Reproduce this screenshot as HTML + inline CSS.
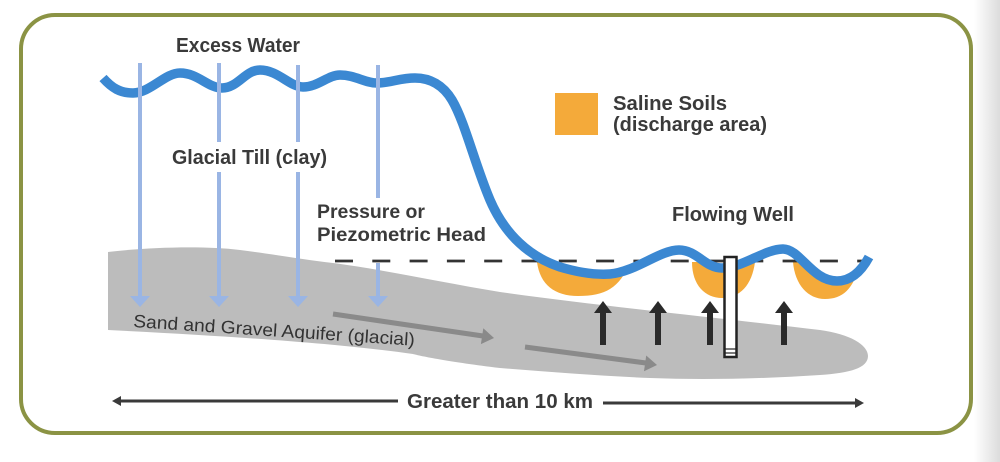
<!DOCTYPE html>
<html>
<head>
<meta charset="utf-8">
<style>
html,body{margin:0;padding:0;background:#fff;}
svg{display:block;}
text{font-family:"Liberation Sans",Arial,sans-serif;}
</style>
</head>
<body>
<svg width="1000" height="462" viewBox="0 0 1000 462" xmlns="http://www.w3.org/2000/svg">
<defs>
<linearGradient id="edge" x1="0" y1="0" x2="1" y2="0">
<stop offset="0" stop-color="#ffffff"/>
<stop offset="1" stop-color="#dcdcdc"/>
</linearGradient>
<clipPath id="below">
<path d="M103,78 C112,88 120,93 133,93 C150,93 165,73 180,73 C198,73 208,88 222,88 C238,88 245,70 260,70 C278,70 290,87 303,87 C318,87 328,75 340,75 C355,75 365,83 377,83 C390,83 400,78 415,78 C430,78 443,85 452,100 C465,122 475,165 490,200 C505,235 530,257 560,267 C580,273 595,275 610,274 C635,272 660,250 679,250 C697,250 705,268 722,268 C742,268 765,249 783,249 C800,249 812,281 837,281 C852,281 862,270 869,257 L880,257 L880,420 L100,420 Z"/>
</clipPath>
</defs>
<rect x="0" y="0" width="1000" height="462" fill="#ffffff"/>
<rect x="974" y="0" width="26" height="462" fill="url(#edge)"/>
<!-- border -->
<rect x="21" y="15" width="950" height="418" rx="34" ry="34" fill="#ffffff" stroke="#8b9344" stroke-width="4"/>

<!-- aquifer -->
<path d="M108,252 C140,248 200,245 240,250 C280,255 305,260 333,263 C380,269 440,282 500,292 C600,306 720,318 820,330 C850,334 868,345 868,356 C868,368 850,373 820,375 C760,379 700,380 650,378 C600,376 550,372 500,368 C450,362 420,356 413,354 C350,345 250,337 108,330 Z" fill="#bcbcbc"/>

<!-- orange saline areas -->
<g clip-path="url(#below)" fill="#f4aa3a">
<path d="M537,262 C540,285 555,296 578,296 C605,296 620,288 630,262 Z"/>
<path d="M692,262 C692,285 705,298 722,298 C740,298 752,285 755,262 Z"/>
<path d="M793,262 C795,285 808,299 825,299 C842,299 854,290 860,262 Z"/>
</g>

<!-- dashed piezometric line -->
<line x1="335" y1="261" x2="866" y2="261" stroke="#333" stroke-width="2.7" stroke-dasharray="18 19.3"/>

<!-- blue ground surface -->
<path d="M103,78 C112,88 120,93 133,93 C150,93 165,73 180,73 C198,73 208,88 222,88 C238,88 245,70 260,70 C278,70 290,87 303,87 C318,87 328,75 340,75 C355,75 365,83 377,83 C390,83 400,78 415,78 C430,78 443,85 452,100 C465,122 475,165 490,200 C505,235 530,257 560,267 C580,273 595,275 610,274 C635,272 660,250 679,250 C697,250 705,268 722,268 C742,268 765,249 783,249 C800,249 812,281 837,281 C852,281 862,270 869,257" fill="none" stroke="#3b88d2" stroke-width="9.5"/>

<!-- light blue recharge arrows -->
<g stroke="#9ab5e4" stroke-width="4" fill="none">
<line x1="140" y1="63" x2="140" y2="298"/>
<line x1="219" y1="63" x2="219" y2="142"/>
<line x1="219" y1="172" x2="219" y2="298"/>
<line x1="298" y1="65" x2="298" y2="142"/>
<line x1="298" y1="172" x2="298" y2="298"/>
<line x1="378" y1="65" x2="378" y2="198"/>
<line x1="378" y1="263" x2="378" y2="298"/>
</g>
<g fill="#9ab5e4">
<polygon points="130,296 150,296 140,307"/>
<polygon points="209,296 229,296 219,307"/>
<polygon points="288,296 308,296 298,307"/>
<polygon points="368,296 388,296 378,307"/>
</g>

<!-- gray flow arrows -->
<g stroke="#8a8a8a" stroke-width="5">
<line x1="333" y1="314" x2="483" y2="336"/>
<line x1="525" y1="347" x2="646" y2="363"/>
</g>
<g fill="#8a8a8a">
<polygon points="483.3,328.3 480.9,344.1 494,338"/>
<polygon points="646.2,355.5 644.0,371.3 657,365"/>
</g>

<!-- black upward arrows -->
<g stroke="#2a2a2a" stroke-width="6">
<line x1="603" y1="311" x2="603" y2="345"/>
<line x1="658" y1="311" x2="658" y2="345"/>
<line x1="710" y1="311" x2="710" y2="345"/>
<line x1="784" y1="311" x2="784" y2="345"/>
</g>
<g fill="#2a2a2a">
<polygon points="594,313 612,313 603,301"/>
<polygon points="649,313 667,313 658,301"/>
<polygon points="701,313 719,313 710,301"/>
<polygon points="775,313 793,313 784,301"/>
</g>

<!-- flowing well -->
<rect x="724.5" y="257" width="12" height="100" fill="#ffffff" stroke="#222" stroke-width="2.5"/>
<line x1="725" y1="349" x2="736" y2="349" stroke="#222" stroke-width="1.2"/>
<line x1="725" y1="353" x2="736" y2="353" stroke="#222" stroke-width="1.2"/>

<!-- legend square -->
<rect x="555" y="93" width="43" height="42" fill="#f4aa3a"/>

<!-- distance arrow -->
<g stroke="#3a3a3a" stroke-width="3">
<line x1="118" y1="401" x2="398" y2="401"/>
<line x1="603" y1="403" x2="857" y2="403"/>
</g>
<g fill="#3a3a3a">
<polygon points="112,401 121,396 121,406"/>
<polygon points="864,403 855,398 855,408"/>
</g>

<!-- labels -->
<g fill="#3a3a3a" font-weight="bold" font-size="20">
<text x="176" y="52" textLength="124" lengthAdjust="spacingAndGlyphs">Excess Water</text>
<text x="172" y="164" textLength="155" lengthAdjust="spacingAndGlyphs">Glacial Till (clay)</text>
<text x="317" y="218" font-size="19" textLength="108" lengthAdjust="spacingAndGlyphs">Pressure or</text>
<text x="317" y="241" font-size="19" textLength="169" lengthAdjust="spacingAndGlyphs">Piezometric Head</text>
<text x="613" y="110" textLength="114" lengthAdjust="spacingAndGlyphs">Saline Soils</text>
<text x="613" y="131" textLength="154" lengthAdjust="spacingAndGlyphs">(discharge area)</text>
<text x="672" y="221" textLength="122" lengthAdjust="spacingAndGlyphs">Flowing Well</text>
<text x="407" y="408" textLength="186" lengthAdjust="spacingAndGlyphs">Greater than 10 km</text>
</g>
<text x="133" y="327" fill="#333" font-size="18" transform="rotate(3.8 133 327)" textLength="282" lengthAdjust="spacingAndGlyphs">Sand and Gravel Aquifer (glacial)</text>
</svg>
</body>
</html>
